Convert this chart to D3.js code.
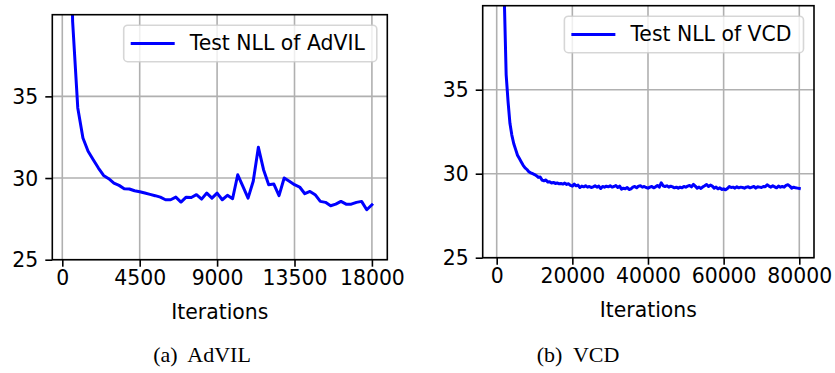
<!DOCTYPE html>
<html>
<head>
<meta charset="utf-8">
<script src="https://cdn.jsdelivr.net/npm/d3@7"></script>
<style>
  html, body { margin: 0; padding: 0; background: #fff; }
  svg { display: block; }
</style>
</head>
<body>
<svg id="chart" width="835" height="373"></svg>
<script>
// ---------- DATA ----------
const advilIters = [300, 600, 900, 1200, 1500, 1800, 2100, 2400, 2700, 3000, 3300, 3600, 3900, 4200, 4500, 4800, 5100, 5400, 5700, 6000, 6300, 6600, 6900, 7200, 7500, 7800, 8100, 8400, 8700, 9000, 9300, 9600, 9900, 10200, 10500, 10800, 11100, 11400, 11700, 12000, 12300, 12600, 12900, 13200, 13500, 13800, 14100, 14400, 14700, 15000, 15300, 15600, 15900, 16200, 16500, 16800, 17100, 17400, 17700, 18000];
const advilNLL = [60.0, 39.6, 34.29, 32.45, 31.64, 31.12, 30.61, 30.16, 29.96, 29.69, 29.55, 29.35, 29.33, 29.22, 29.16, 29.08, 29.0, 28.92, 28.83, 28.67, 28.67, 28.83, 28.53, 28.83, 28.81, 28.98, 28.71, 29.08, 28.77, 29.08, 28.67, 28.94, 28.73, 30.2, 29.49, 28.77, 29.8, 31.88, 30.51, 29.59, 29.63, 28.92, 30.0, 29.8, 29.59, 29.45, 29.04, 29.18, 28.98, 28.57, 28.51, 28.3, 28.4, 28.57, 28.4, 28.4, 28.51, 28.57, 28.06, 28.36];

const vcdIters = [500, 1000, 1500, 2000, 2500, 3000, 3500, 4000, 4500, 5000, 5500, 6000, 6500, 7000, 7500, 8000, 8500, 9000, 9500, 10000, 10500, 11000, 11500, 12000, 12500, 13000, 13500, 14000, 14500, 15000, 15500, 16000, 16500, 17000, 17500, 18000, 18500, 19000, 19500, 20000, 20500, 21000, 21500, 22000, 22500, 23000, 23500, 24000, 24500, 25000, 25500, 26000, 26500, 27000, 27500, 28000, 28500, 29000, 29500, 30000, 30500, 31000, 31500, 32000, 32500, 33000, 33500, 34000, 34500, 35000, 35500, 36000, 36500, 37000, 37500, 38000, 38500, 39000, 39500, 40000, 40500, 41000, 41500, 42000, 42500, 43000, 43500, 44000, 44500, 45000, 45500, 46000, 46500, 47000, 47500, 48000, 48500, 49000, 49500, 50000, 50500, 51000, 51500, 52000, 52500, 53000, 53500, 54000, 54500, 55000, 55500, 56000, 56500, 57000, 57500, 58000, 58500, 59000, 59500, 60000, 60500, 61000, 61500, 62000, 62500, 63000, 63500, 64000, 64500, 65000, 65500, 66000, 66500, 67000, 67500, 68000, 68500, 69000, 69500, 70000, 70500, 71000, 71500, 72000, 72500, 73000, 73500, 74000, 74500, 75000, 75500, 76000, 76500, 77000, 77500, 78000, 78500, 79000, 79500, 80000];
const vcdNLL = [90.0, 65.0, 48.0, 40.5, 35.9, 34.3, 33.0, 32.3, 31.8, 31.45, 31.1, 30.9, 30.7, 30.5, 30.35, 30.25, 30.12, 30.05, 30.0, 29.95, 29.88, 29.78, 29.8, 29.62, 29.58, 29.63, 29.5, 29.52, 29.45, 29.48, 29.42, 29.45, 29.4, 29.42, 29.38, 29.44, 29.36, 29.4, 29.3, 29.26, 29.38, 29.28, 29.32, 29.18, 29.26, 29.22, 29.28, 29.2, 29.24, 29.18, 29.22, 29.28, 29.2, 29.26, 29.12, 29.24, 29.2, 29.26, 29.22, 29.28, 29.2, 29.24, 29.3, 29.18, 29.26, 29.08, 29.14, 29.1, 29.18, 29.06, 29.1, 29.2, 29.24, 29.16, 29.26, 29.28, 29.2, 29.24, 29.18, 29.14, 29.2, 29.24, 29.16, 29.22, 29.3, 29.2, 29.46, 29.28, 29.24, 29.28, 29.2, 29.26, 29.22, 29.16, 29.2, 29.14, 29.2, 29.16, 29.24, 29.2, 29.26, 29.3, 29.22, 29.36, 29.26, 29.14, 29.2, 29.12, 29.22, 29.28, 29.36, 29.24, 29.32, 29.26, 29.14, 29.2, 29.1, 29.16, 29.06, 29.1, 29.04, 29.12, 29.24, 29.18, 29.2, 29.14, 29.22, 29.16, 29.2, 29.18, 29.14, 29.2, 29.22, 29.16, 29.2, 29.24, 29.14, 29.22, 29.2, 29.18, 29.24, 29.22, 29.34, 29.26, 29.2, 29.28, 29.22, 29.16, 29.26, 29.2, 29.24, 29.2, 29.3, 29.34, 29.26, 29.14, 29.2, 29.16, 29.14, 29.12];

const advilXTicks = [0, 4500, 9000, 13500, 18000];
const vcdXTicks = [0, 20000, 40000, 60000, 80000];
const yTicks = [25, 30, 35];

const advilLegend = "Test NLL of AdVIL";
const vcdLegend = "Test NLL of VCD";
const xLabel = "Iterations";
const captions = ["(a)  AdVIL", "(b)  VCD"];

// ---------- DRAW ----------
const svg = d3.select("#chart");
const FONT = "DejaVu Sans";
const FS = "20.4px";

function panel(cfg, idx) {
  const {left, right, top, bottom, xDomain, yDomain, xs, ys, xTicks, legend} = cfg;
  const x = d3.scaleLinear().domain(xDomain).range([left, right]);
  const y = d3.scaleLinear().domain(yDomain).range([bottom, top]);
  const g = svg.append("g");

  // grid
  g.append("g").selectAll("line").data(xTicks).join("line")
    .attr("x1", d => x(d)).attr("x2", d => x(d))
    .attr("y1", top).attr("y2", bottom)
    .attr("stroke", "#b0b0b0").attr("stroke-width", 1.6);
  g.append("g").selectAll("line").data(yTicks).join("line")
    .attr("x1", left).attr("x2", right)
    .attr("y1", d => y(d)).attr("y2", d => y(d))
    .attr("stroke", "#b0b0b0").attr("stroke-width", 1.6);

  // data line (clipped)
  const clipId = "clip" + idx;
  svg.append("defs").append("clipPath").attr("id", clipId)
    .append("rect").attr("x", left).attr("y", top)
    .attr("width", right - left).attr("height", bottom - top);
  const pts = xs.map((v, i) => [v, ys[i]]);
  g.append("path").datum(pts)
    .attr("clip-path", `url(#${clipId})`)
    .attr("fill", "none").attr("stroke", "#0000ff")
    .attr("stroke-width", 3).attr("stroke-linejoin", "round").attr("stroke-linecap", "square")
    .attr("d", d3.line().x(d => x(d[0])).y(d => y(d[1])));

  // axes
  const xAxis = d3.axisBottom(x).tickValues(xTicks).tickSize(7).tickPadding(4).tickFormat(d3.format("d"));
  const yAxis = d3.axisLeft(y).tickValues(yTicks).tickSize(7).tickPadding(7).tickFormat(d3.format("d"));
  const gx = g.append("g").attr("transform", `translate(0,${bottom})`).call(xAxis);
  const gy = g.append("g").attr("transform", `translate(${left},0)`).call(yAxis);
  [gx, gy].forEach(a => {
    a.select(".domain").remove();
    a.selectAll(".tick line").attr("stroke", "#000").attr("stroke-width", 1.6);
    a.selectAll(".tick text").attr("fill", "#000").style("font-family", FONT).style("font-size", FS);
  });
  gy.selectAll(".tick text").attr("dy", "0.35em");

  // frame
  g.append("rect").attr("x", left).attr("y", top)
    .attr("width", right - left).attr("height", bottom - top)
    .attr("fill", "none").attr("stroke", "#000").attr("stroke-width", 1.6);

  // x label
  g.append("text").attr("x", (left + right) / 2).attr("y", bottom + 59)
    .attr("text-anchor", "middle").style("font-family", FONT).style("font-size", FS)
    .text(xLabel);

  // legend
  const lg = g.append("g");
  const box = lg.append("rect");
  const txt = lg.append("text").style("font-family", FONT).style("font-size", FS).text(legend);
  const tl = txt.node().getComputedTextLength();
  const bw = 7 + 44 + 15 + tl + 12;
  const bh = 36.5;
  const bx = right - 10.5 - bw;
  const by = top + 10.5;
  box.attr("x", bx).attr("y", by).attr("width", bw).attr("height", bh)
    .attr("rx", 4).attr("ry", 4)
    .attr("fill", "#fff").attr("fill-opacity", 0.8)
    .attr("stroke", "#cccccc").attr("stroke-opacity", 0.8).attr("stroke-width", 1.6);
  lg.append("line").attr("x1", bx + 7).attr("x2", bx + 51)
    .attr("y1", by + bh / 2).attr("y2", by + bh / 2)
    .attr("stroke", "#0000ff").attr("stroke-width", 3);
  txt.attr("x", bx + 66).attr("y", by + bh / 2 + 7);
}

panel({left: 52.3, right: 387.3, top: 14.7, bottom: 259.7,
  xDomain: [-581, 18895], yDomain: [25, 40],
  xs: advilIters, ys: advilNLL, xTicks: advilXTicks, legend: advilLegend}, 0);
panel({left: 482.7, right: 814, top: 5.7, bottom: 257.7,
  xDomain: [-3700, 83890], yDomain: [25, 40],
  xs: vcdIters, ys: vcdNLL, xTicks: vcdXTicks, legend: vcdLegend}, 1);

// captions
svg.selectAll(".cap").data(captions).join("text").attr("class", "cap")
  .attr("x", (d, i) => i === 0 ? 202 : 578).attr("y", 362)
  .attr("text-anchor", "middle")
  .style("font-family", "Liberation Serif").style("font-size", "22px")
  .style("white-space", "pre")
  .text(d => d);
</script>
</body>
</html>
